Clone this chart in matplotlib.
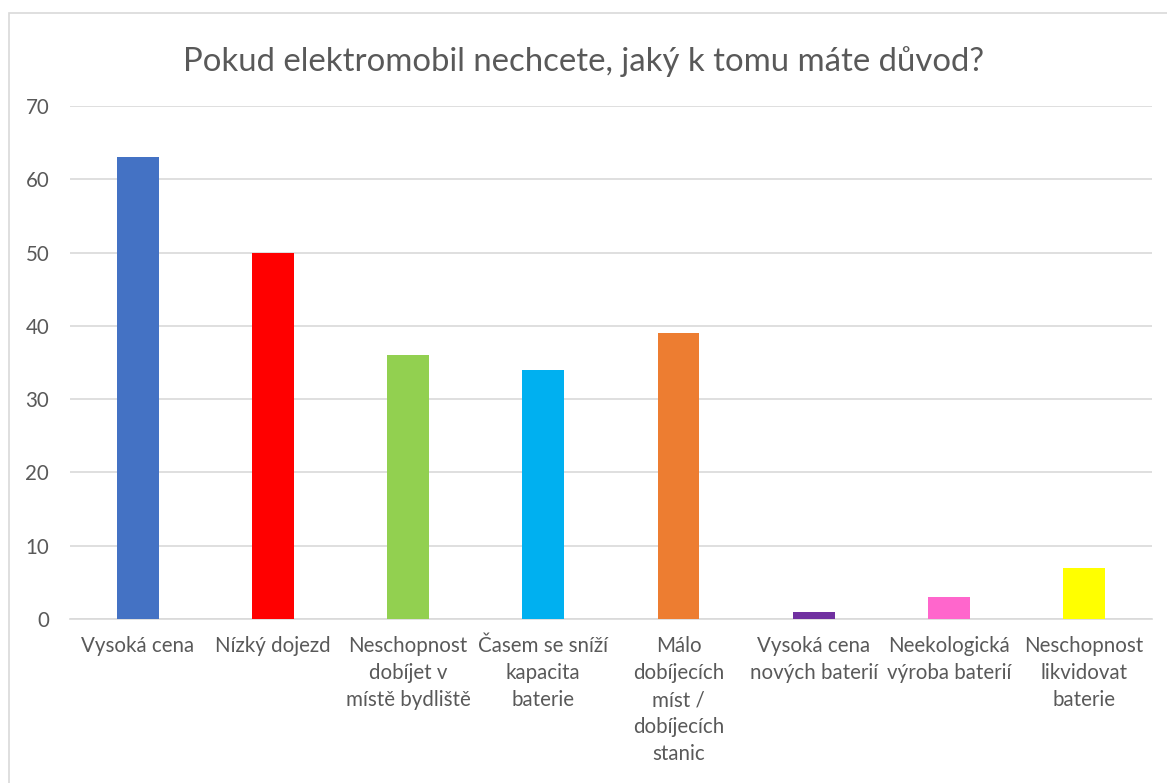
import matplotlib.pyplot as plt
from matplotlib.patches import Rectangle

# data
labels = [
    "Vysoká cena",
    "Nízký dojezd",
    "Neschopnost\ndobíjet v\nmístě bydliště",
    "Časem se sníží\nkapacita\nbaterie",
    "Málo\ndobíjecích\nmíst /\ndobíjecích\nstanic",
    "Vysoká cena\nnových baterií",
    "Neekologická\nvýroba baterií",
    "Neschopnost\nlikvidovat\nbaterie",
]
values = [63, 50, 36, 34, 39, 1, 3, 7]
colors = ["#4472C4", "#FF0000", "#92D050", "#00B0F0", "#ED7D31",
          "#7030A0", "#FF66CC", "#FFFF00"]
yticks = [0, 10, 20, 30, 40, 50, 60, 70]

plt.rcParams['font.family'] = ['Lato', 'DejaVu Sans']
text_col = "#595959"

fig = plt.figure(figsize=(11.67, 7.83), dpi=100)
ax = fig.add_axes([0.06, 0.2095, 0.927, 0.6551])

# chart area border (cut off on the right and bottom like the screenshot)
fig.patches.append(Rectangle((9 / 1167, -0.1), 1.2, 1.1 - 13 / 783,
                             transform=fig.transFigure, fill=False,
                             edgecolor="#D9D9D9", linewidth=1.2))

x = range(len(values))
ax.bar(x, values, width=0.31, color=colors, zorder=3)

ax.set_xlim(-0.5, len(values) - 0.5)
ax.set_ylim(0, 70)
ax.set_yticks(yticks)
ax.grid(axis='y', color="#D9D9D9", linewidth=1.2, zorder=0)
for s in ['top', 'right', 'left']:
    ax.spines[s].set_visible(False)
ax.spines['bottom'].set_color("#D9D9D9")
ax.spines['bottom'].set_linewidth(1.2)

ax.set_xticks(list(x))
ax.set_xticklabels(labels, fontsize=14.8, color=text_col, linespacing=1.45)
ax.tick_params(axis='x', length=0, pad=12)
ax.tick_params(axis='y', length=0, pad=15, labelsize=14.8, labelcolor=text_col)

fig.text(0.5, 1 - 62 / 783, "Pokud elektromobil nechcete, jaký k tomu máte důvod?",
         ha='center', va='center', fontsize=23.7, color=text_col)

plt.savefig('out.png', dpi=100)
